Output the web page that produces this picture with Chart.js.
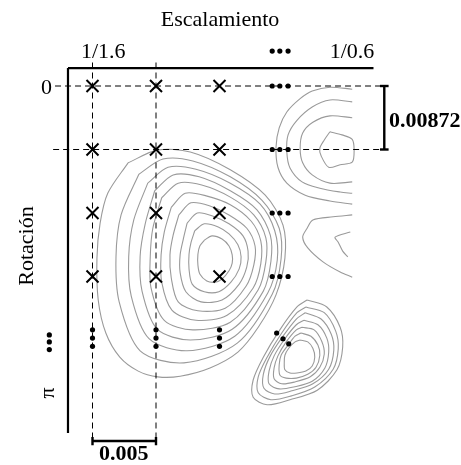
<!DOCTYPE html>
<html>
<head>
<meta charset="utf-8">
<script src="https://cdn.jsdelivr.net/npm/chart.js@4/dist/chart.umd.min.js"></script>
<style>
  html, body { margin: 0; padding: 0; background: #fff; }
  canvas { display: block; }
</style>
</head>
<body>
<canvas id="grid" width="461" height="465"></canvas>
<script>
// Sampling grid of the search: scale columns and rotation rows, in grid steps
const scaleCols = [0, 1, 2];
const rotationRows = [0, 1, 2, 3];
const scaleTickLabels = ['1/1.6', '1/0.6'];
const rotationTickLabels = ['0', 'π'];
const axisTitles = ['Escalamiento', 'Rotación'];
const scaleStepLabel = '0.005';
const rotationStepLabel = '0.00872';

// Continuation marks (grid steps)
const rowEllipsisX = [2.83, 2.95, 3.08];
const colEllipsisY = [3.84, 3.97, 4.1];
const diagEllipsis = [[2.9, 3.89], [3.0, 3.98], [3.09, 4.06]];
const topEllipsisY = -0.55;
const leftEllipsis = { x: -0.68, y: [3.92, 4.03, 4.15] };

// Similarity surface iso-lines, main peak (inner to outer)
const mainPeak1 = [[1.76,2.43],[1.88,2.36],[2.04,2.41],[2.15,2.52],[2.20,2.66],[2.20,2.79],[2.15,2.91],[2.04,3.04],[1.93,3.09],[1.80,3.07],[1.69,2.96],[1.66,2.82],[1.66,2.65],[1.69,2.52],[1.76,2.43]];
const mainPeak2 = [[1.61,2.28],[1.76,2.17],[1.98,2.22],[2.15,2.33],[2.29,2.50],[2.34,2.69],[2.31,2.88],[2.18,3.09],[1.99,3.24],[1.76,3.24],[1.57,3.12],[1.52,2.88],[1.52,2.65],[1.55,2.47],[1.61,2.28]];
const mainPeak3 = [[1.49,2.16],[1.65,2.00],[1.90,2.05],[2.15,2.17],[2.37,2.36],[2.45,2.60],[2.43,2.85],[2.31,3.12],[2.04,3.37],[1.71,3.40],[1.47,3.24],[1.38,2.94],[1.38,2.66],[1.43,2.41],[1.49,2.16]];
const mainPeak4 = [[1.36,2.03],[1.55,1.84],[1.85,1.89],[2.15,2.03],[2.43,2.24],[2.56,2.52],[2.54,2.82],[2.42,3.15],[2.09,3.50],[1.66,3.54],[1.35,3.40],[1.24,3.02],[1.22,2.66],[1.27,2.35],[1.36,2.03]];
const mainPeak5 = [[1.24,1.91],[1.46,1.69],[1.79,1.73],[2.17,1.87],[2.50,2.13],[2.65,2.44],[2.65,2.80],[2.53,3.18],[2.12,3.61],[1.63,3.69],[1.25,3.53],[1.09,3.09],[1.08,2.66],[1.13,2.30],[1.24,1.91]];
const mainPeak6 = [[1.09,1.76],[1.35,1.53],[1.72,1.56],[2.17,1.75],[2.54,2.03],[2.73,2.39],[2.73,2.77],[2.61,3.21],[2.17,3.72],[1.58,3.84],[1.13,3.69],[0.92,3.17],[0.91,2.68],[0.95,2.24],[1.09,1.76]];
const mainPeak7 = [[0.98,1.65],[1.27,1.40],[1.68,1.43],[2.17,1.65],[2.59,1.95],[2.80,2.35],[2.81,2.76],[2.69,3.23],[2.20,3.83],[1.54,4.00],[1.02,3.83],[0.78,3.23],[0.75,2.68],[0.83,2.17],[0.98,1.65]];
const mainPeak8 = [[0.87,1.53],[1.19,1.28],[1.63,1.31],[2.17,1.53],[2.64,1.86],[2.87,2.28],[2.91,2.74],[2.76,3.26],[2.24,3.94],[1.49,4.17],[0.89,3.98],[0.61,3.31],[0.57,2.69],[0.65,2.11],[0.87,1.53]];
const mainPeak9 = [[0.73,1.39],[1.11,1.15],[1.58,1.18],[2.17,1.43],[2.67,1.80],[2.94,2.24],[2.97,2.72],[2.83,3.28],[2.28,4.05],[1.44,4.36],[0.75,4.17],[0.42,3.40],[0.37,2.69],[0.45,2.03],[0.73,1.39]];
const mainPeak10 = [[0.56,1.21],[1.02,1.01],[1.54,1.04],[2.17,1.32],[2.72,1.72],[3.00,2.19],[3.03,2.71],[2.89,3.29],[2.61,3.80],[2.29,4.19],[1.85,4.44],[1.38,4.57],[1.03,4.58],[0.72,4.49],[0.43,4.27],[0.21,3.89],[0.09,3.37],[0.07,2.71],[0.12,2.16],[0.24,1.69],[0.56,1.21]];

// Upper-right peak
const upperPeak1 = [[3.74,0.72],[3.93,0.77],[4.09,0.84],[4.12,1.01],[4.09,1.20],[3.90,1.24],[3.72,1.28],[3.60,1.10],[3.58,0.98],[3.65,0.85],[3.74,0.72]];
const upperPeak2 = [[4.09,0.50],[3.74,0.47],[3.47,0.57],[3.31,0.74],[3.27,0.98],[3.31,1.21],[3.46,1.40],[3.74,1.53],[4.09,1.51]];
const upperPeak3 = [[4.09,0.25],[3.74,0.22],[3.46,0.33],[3.22,0.54],[3.08,0.77],[3.06,1.04],[3.11,1.29],[3.30,1.51],[3.58,1.61],[3.90,1.67],[4.09,1.69]];
const upperPeak4 = [[4.09,0.05],[3.74,0.02],[3.46,0.08],[3.27,0.20],[3.06,0.41],[2.94,0.66],[2.89,0.96],[2.92,1.28],[3.06,1.53],[3.35,1.72],[3.74,1.81],[4.09,1.86]];

// Middle-right ridge
const midRidge1 = [[4.09,2.03],[3.79,2.06],[3.47,2.11],[3.38,2.24],[3.31,2.38],[3.39,2.55],[3.63,2.77],[3.90,2.93],[4.09,3.01]];
const midRidge2 = [[4.06,2.30],[3.82,2.38],[3.87,2.46],[3.94,2.60],[4.02,2.69]];

// Lower-right peak (inner to outer)
const lowerPeak1 = [[3.27,4.00],[3.39,4.03],[3.47,4.13],[3.50,4.27],[3.46,4.41],[3.36,4.49],[3.22,4.52],[3.11,4.52],[3.03,4.47],[3.02,4.35],[3.03,4.24],[3.09,4.13],[3.19,4.03],[3.27,4.00]];
const lowerPeak2 = [[3.28,3.89],[3.44,3.94],[3.55,4.08],[3.58,4.24],[3.52,4.43],[3.39,4.54],[3.21,4.60],[3.05,4.60],[2.95,4.55],[2.94,4.39],[2.97,4.24],[3.08,4.08],[3.19,3.94],[3.28,3.89]];
const lowerPeak3 = [[3.30,3.80],[3.49,3.84],[3.61,4.02],[3.65,4.22],[3.58,4.43],[3.43,4.58],[3.19,4.66],[2.98,4.69],[2.86,4.61],[2.86,4.44],[2.92,4.25],[3.05,4.03],[3.21,3.84],[3.30,3.80]];
const lowerPeak4 = [[3.33,3.69],[3.55,3.76],[3.69,3.97],[3.72,4.19],[3.66,4.44],[3.46,4.65],[3.17,4.74],[2.94,4.77],[2.78,4.69],[2.78,4.49],[2.86,4.25],[3.03,3.98],[3.21,3.76],[3.33,3.69]];
const lowerPeak5 = [[3.35,3.57],[3.60,3.67],[3.76,3.91],[3.80,4.16],[3.72,4.46],[3.47,4.69],[3.14,4.80],[2.87,4.85],[2.70,4.76],[2.69,4.54],[2.80,4.25],[3.00,3.94],[3.21,3.67],[3.35,3.57]];
const lowerPeak6 = [[3.36,3.48],[3.65,3.57],[3.83,3.86],[3.87,4.14],[3.79,4.46],[3.50,4.74],[3.13,4.88],[2.81,4.94],[2.61,4.83],[2.61,4.58],[2.75,4.27],[2.98,3.89],[3.22,3.57],[3.36,3.48]];
const lowerPeak7 = [[3.38,3.37],[3.69,3.48],[3.90,3.80],[3.94,4.11],[3.85,4.47],[3.54,4.79],[3.11,4.94],[2.75,5.02],[2.53,4.90],[2.53,4.63],[2.69,4.27],[2.95,3.84],[3.22,3.48],[3.38,3.37]];

const isoLines = [
  mainPeak1, mainPeak2, mainPeak3, mainPeak4, mainPeak5, mainPeak6, mainPeak7, mainPeak8, mainPeak9, mainPeak10,
  upperPeak1, upperPeak2, upperPeak3, upperPeak4, midRidge1, midRidge2,
  lowerPeak1, lowerPeak2, lowerPeak3, lowerPeak4, lowerPeak5, lowerPeak6, lowerPeak7
];

// ---- layout of the frame, guides and brackets (grid-step coordinates) ----
const frame = { left: -0.386, top: -0.283, right: 4.425, bottom: 5.465 };
const guide = { rowStart: [-0.59, -0.62], rowEnd: 4.65, colTop: -0.37, colBottom: 5.59 };
const rotBracket = { x: 4.595, half: 0.068 };
const scaleBracket = { y: 5.591, half: 0.065 };

const pts = arr => arr.map(([x, y]) => ({ x, y }));
const seg = (data, extra) => Object.assign({
  data, showLine: true, pointRadius: 0, borderColor: '#000', borderWidth: 1,
  fill: false, tension: 0, order: 2
}, extra);

const datasets = [];

// grid samples
datasets.push({
  data: rotationRows.flatMap(r => scaleCols.map(c => ({ x: c, y: r }))),
  showLine: false, pointStyle: 'crossRot', pointRadius: 8.5,
  borderColor: '#000', borderWidth: 2, backgroundColor: '#000', order: 0
});

// continuation dots
const dots = [
  ...rotationRows.flatMap(r => rowEllipsisX.map(x => ({ x, y: r }))),
  ...scaleCols.flatMap(c => colEllipsisY.map(y => ({ x: c, y }))),
  ...pts(diagEllipsis),
  ...rowEllipsisX.map(x => ({ x, y: topEllipsisY })),
  ...leftEllipsis.y.map(y => ({ x: leftEllipsis.x, y }))
];
datasets.push({
  data: dots, showLine: false, pointStyle: 'circle', pointRadius: 2.6,
  backgroundColor: '#000', borderWidth: 0, order: 0
});

// frame axes
datasets.push(seg([{ x: frame.left, y: frame.top }, { x: frame.right, y: frame.top }], { borderWidth: 2.2, order: 1 }));
datasets.push(seg([{ x: frame.left, y: frame.top }, { x: frame.left, y: frame.bottom }], { borderWidth: 2.2, order: 1 }));

// dashed guides through the first two rows and columns
[0, 1].forEach(i => {
  datasets.push(seg([{ x: guide.rowStart[i], y: rotationRows[i] }, { x: guide.rowEnd, y: rotationRows[i] }], { borderDash: [6, 4] }));
  datasets.push(seg([{ x: scaleCols[i], y: guide.colTop }, { x: scaleCols[i], y: guide.colBottom }], { borderDash: [6, 4] }));
});

// step brackets
const r0 = rotationRows[0], r1 = rotationRows[1];
datasets.push(seg([{ x: rotBracket.x, y: r0 }, { x: rotBracket.x, y: r1 }], { borderWidth: 2.4, order: 1 }));
datasets.push(seg([{ x: rotBracket.x - rotBracket.half, y: r0 }, { x: rotBracket.x + rotBracket.half, y: r0 }], { borderWidth: 2.4, order: 1 }));
datasets.push(seg([{ x: rotBracket.x - rotBracket.half, y: r1 }, { x: rotBracket.x + rotBracket.half, y: r1 }], { borderWidth: 2.4, order: 1 }));
const c0 = scaleCols[0], c1 = scaleCols[1];
datasets.push(seg([{ x: c0, y: scaleBracket.y }, { x: c1, y: scaleBracket.y }], { borderWidth: 2.4, order: 1 }));
datasets.push(seg([{ x: c0, y: scaleBracket.y - scaleBracket.half }, { x: c0, y: scaleBracket.y + scaleBracket.half }], { borderWidth: 2.4, order: 1 }));
datasets.push(seg([{ x: c1, y: scaleBracket.y - scaleBracket.half }, { x: c1, y: scaleBracket.y + scaleBracket.half }], { borderWidth: 2.4, order: 1 }));

// iso-lines of the similarity surface
isoLines.forEach(l => datasets.push(seg(pts(l), {
  borderColor: '#9a9a9a', borderWidth: 1.1, tension: 0.3, order: 3
})));

// text labels
const serif = '"Liberation Serif", "DejaVu Serif", serif';
const textItems = [
  { text: axisTitles[0], x: 2.008, y: -0.945, font: `22px ${serif}` },
  { text: scaleTickLabels[0], x: 0.17, y: -0.446, font: `22px ${serif}` },
  { text: scaleTickLabels[1], x: 4.087, y: -0.446, font: `22px ${serif}` },
  { text: rotationTickLabels[0], x: -0.724, y: 0.126, font: `22px ${serif}` },
  { text: axisTitles[1], x: -0.937, y: 2.52, font: `22px ${serif}`, rotate: -Math.PI / 2 },
  { text: rotationTickLabels[1], x: -0.606, y: 4.835, font: `22px ${serif}`, rotate: -Math.PI / 2 },
  { text: rotationStepLabel, x: 4.669, y: 0.646, font: `bold 22px ${serif}`, align: 'left' },
  { text: scaleStepLabel, x: 0.493, y: 5.89, font: `bold 22px ${serif}` }
];

const textPlugin = {
  id: 'diagramText',
  afterDatasetsDraw(chart) {
    const { ctx, scales: { x, y } } = chart;
    for (const t of textItems) {
      ctx.save();
      ctx.translate(x.getPixelForValue(t.x), y.getPixelForValue(t.y));
      if (t.rotate) ctx.rotate(t.rotate);
      ctx.font = t.font;
      ctx.fillStyle = '#000';
      ctx.textAlign = t.align || 'center';
      ctx.textBaseline = 'alphabetic';
      ctx.fillText(t.text, 0, 0);
      ctx.restore();
    }
  }
};

new Chart(document.getElementById('grid'), {
  type: 'scatter',
  data: { datasets },
  options: {
    responsive: false,
    devicePixelRatio: 1,
    animation: false,
    events: [],
    layout: { padding: 0, autoPadding: false },
    plugins: { legend: { display: false }, tooltip: { enabled: false } },
    scales: {
      x: { type: 'linear', display: false, min: -92.5 / 63.5, max: 368.5 / 63.5 },
      y: { type: 'linear', display: false, reverse: true, min: -86 / 63.5, max: 379 / 63.5 }
    }
  },
  plugins: [textPlugin]
});
</script>
</body>
</html>
